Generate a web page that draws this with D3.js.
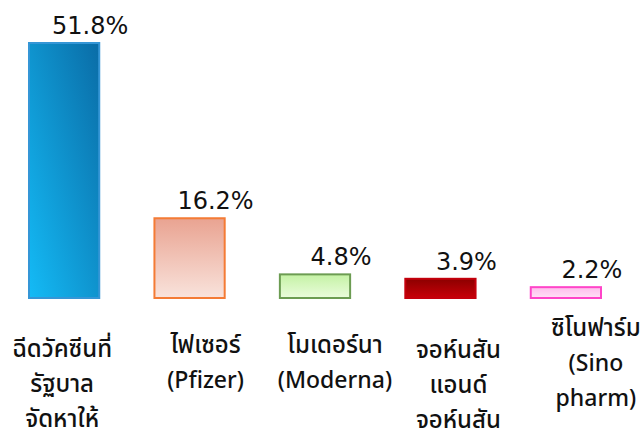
<!DOCTYPE html>
<html>
<head>
<meta charset="utf-8">
<script src="https://cdn.jsdelivr.net/npm/d3@7"></script>
<style>
	body { margin: 0; background: #fff; }
	svg { display: block; }
</style>
</head>
<body>
<div class="container"></div>
<script>
	// data
	var categories = ["gov", "pfizer", "moderna", "jj", "sinopharm"];
	var labelLines = [
		["ฉีดวัคซีนที่", "รัฐบาล", "จัดหาให้"],
		["ไฟเซอร์", "(Pfizer)"],
		["โมเดอร์นา", "(Moderna)"],
		["จอห์นสัน", "แอนด์", "จอห์นสัน"],
		["ซิโนฟาร์ม", "(Sino", "pharm)"]
	];
	var values = [51.8, 16.2, 4.8, 3.9, 2.2];

	// layout / style
	var width = 644, height = 439;
	var labelDx = [-2, 16, 20, 18, 30];
	var labelY = [357, 353, 353, 358, 336];
	var lineGap = 35;
	var fills = [
		{x1: 0, y1: 1, x2: 1, y2: 0, stops: ["#14bbf6", "#0a6ca6"], stroke: "#3596d6"},
		{x1: 0, y1: 0, x2: 0, y2: 1, stops: ["#e9a391", "#f9e3dc"], stroke: "#f47b35"},
		{x1: 0, y1: 0, x2: 0, y2: 1, stops: ["#c4f2a4", "#eafcdc"], stroke: "#6c9c52"},
		{x1: 0, y1: 0, x2: 0, y2: 1, stops: ["#8c0000", "#c80008"], stroke: "#c4000c"},
		{x1: 0, y1: 0, x2: 0, y2: 1, stops: ["#ffbdec", "#ffe0f6"], stroke: "#ff44c8"}
	];
	var isThai = function(s) { return /[\u0E00-\u0E7F]/.test(s); };

	var svg = d3.select(".container").append("svg")
		.attr("width", width)
		.attr("height", height);

	var defs = svg.append("defs");
	fills.forEach(function(f, i) {
		var g = defs.append("linearGradient")
			.attr("id", "grad" + i)
			.attr("x1", f.x1).attr("y1", f.y1)
			.attr("x2", f.x2).attr("y2", f.y2);
		g.append("stop").attr("offset", "0%").attr("stop-color", f.stops[0]);
		g.append("stop").attr("offset", "100%").attr("stop-color", f.stops[1]);
	});

	var x = d3.scaleBand()
		.domain(categories)
		.range([29, 601])
		.paddingInner(0.44)
		.paddingOuter(0);

	var y = d3.scaleLinear()
		.domain([0, 51.8])
		.range([298, 43]);

	svg.selectAll("rect.bar")
		.data(values)
		.enter().append("rect")
		.attr("class", "bar")
		.attr("x", function(d, i) { return x(categories[i]); })
		.attr("y", function(d) { return y(d); })
		.attr("width", x.bandwidth())
		.attr("height", function(d) { return y(0) - y(d); })
		.style("fill", function(d, i) { return "url(#grad" + i + ")"; })
		.style("stroke", function(d, i) { return fills[i].stroke; })
		.style("stroke-width", 2);

	svg.selectAll("text.value")
		.data(values)
		.enter().append("text")
		.attr("class", "value")
		.attr("x", function(d, i) { return x(categories[i]) + x.bandwidth() / 2 + 26; })
		.attr("y", function(d) { return y(d) - 9; })
		.attr("text-anchor", "middle")
		.attr("font-family", "DejaVu Sans, sans-serif")
		.attr("font-size", 24)
		.attr("fill", "#111")
		.text(function(d) { return d.toFixed(1) + "%"; });

	var label = svg.selectAll("text.cat")
		.data(labelLines)
		.enter().append("text")
		.attr("class", "cat")
		.attr("text-anchor", "middle")
		.attr("font-family", "'Noto Sans Thai', 'Leelawadee UI', 'Noto Sans', sans-serif")
		.attr("font-weight", 500)
		.attr("fill", "#111");

	label.each(function(lines, i) {
		var cx = x(categories[i]) + x.bandwidth() / 2 + labelDx[i];
		d3.select(this).selectAll("tspan")
			.data(lines)
			.enter().append("tspan")
			.attr("x", cx)
			.attr("y", function(d, j) { return labelY[i] + j * lineGap; })
			.attr("font-size", function(d) { return isThai(d) ? 24 : 23; })
			.text(function(d) { return d; });
	});
</script>
</body>
</html>
